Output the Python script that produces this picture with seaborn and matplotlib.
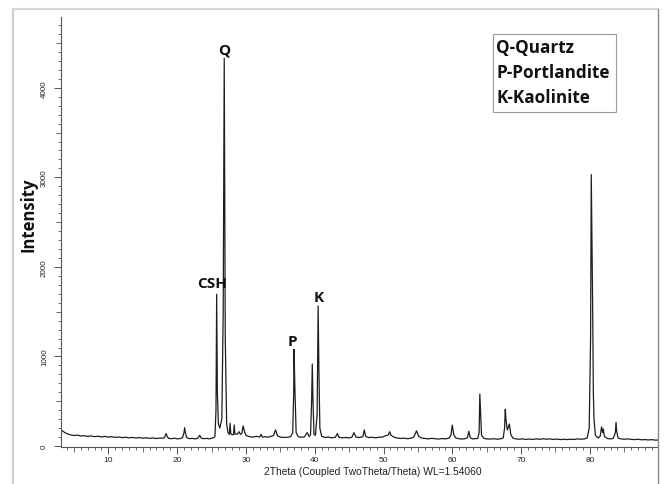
import numpy as np
import pandas as pd
import matplotlib
matplotlib.use("Agg")
import matplotlib.pyplot as plt
from matplotlib.ticker import MultipleLocator
from matplotlib.lines import Line2D
from matplotlib.patches import Rectangle
import seaborn as sns

# ---- data ----
two_theta = [
    3.0, 3.2, 3.5, 3.8, 4.1, 4.5, 5.0, 5.5, 6.0, 6.5, 7.0, 7.5, 8.0, 8.5, 9.0, 9.5,
    10.0, 10.5, 11.0, 11.5, 12.0, 12.5, 13.0, 13.5, 14.0, 14.5, 15.0, 15.5, 16.0, 16.5,
    17.0, 17.5, 18.0, 18.2, 18.4, 18.6, 18.8, 19.2, 19.6, 20.0, 20.5, 20.8, 21.0, 21.1,
    21.2, 21.4, 21.8, 22.2, 22.6, 23.0, 23.3, 23.5, 23.9, 24.3, 24.7, 25.0, 25.3, 25.5,
    25.65, 25.75, 25.85, 26.0, 26.2, 26.5, 26.7, 26.85, 27.0, 27.2, 27.4, 27.6, 27.7, 27.8,
    28.0, 28.2, 28.3, 28.4, 28.7, 29.0, 29.2, 29.4, 29.6, 29.8, 30.0, 30.5, 31.0, 31.5,
    32.0, 32.2, 32.4, 32.8, 33.2, 33.6, 34.0, 34.3, 34.6, 35.0, 35.5, 36.0, 36.5, 36.8,
    36.95, 37.0, 37.1, 37.3, 37.6, 38.0, 38.5, 38.9, 39.2, 39.4, 39.55, 39.65, 39.75, 39.9,
    40.1, 40.35, 40.5, 40.6, 40.75, 41.0, 41.5, 42.0, 42.5, 43.0, 43.3, 43.5, 44.0, 44.5,
    45.0, 45.4, 45.7, 46.0, 46.5, 47.0, 47.2, 47.4, 47.8, 48.3, 48.8, 49.3, 49.8, 50.3,
    50.7, 50.9, 51.1, 51.5, 52.0, 52.5, 53.0, 53.5, 54.0, 54.4, 54.8, 55.1, 55.5, 56.0,
    56.5, 57.0, 57.5, 58.0, 58.5, 59.0, 59.5, 59.8, 60.0, 60.2, 60.5, 61.0, 61.5, 62.0,
    62.2, 62.4, 62.6, 62.9, 63.3, 63.7, 63.9, 64.0, 64.1, 64.25, 64.6, 65.0, 65.5, 66.0,
    66.5, 67.0, 67.4, 67.6, 67.7, 67.8, 68.0, 68.3, 68.5, 68.8, 69.2, 69.7, 70.2, 70.7,
    71.2, 71.7, 72.2, 72.7, 73.2, 73.7, 74.2, 74.7, 75.2, 75.7, 76.2, 76.7, 77.2, 77.7,
    78.2, 78.7, 79.2, 79.6, 79.9, 80.1, 80.2, 80.3, 80.4, 80.5, 80.6, 80.8, 81.2, 81.5,
    81.7, 81.85, 81.95, 82.1, 82.5, 83.0, 83.4, 83.7, 83.8, 83.9, 84.1, 84.5, 85.0, 85.5,
    86.0, 86.5, 87.0, 87.5, 88.0, 88.5, 89.0, 89.5, 90.0,
]
intensity = [
    190, 175, 160, 145, 135, 125, 118, 122, 112, 116, 108, 113, 105, 110, 102, 108,
    100, 104, 97, 101, 94, 99, 92, 96, 90, 95, 88, 92, 86, 90,
    84, 89, 88, 100, 140, 100, 86, 82, 88, 80, 84, 95, 150, 205,
    150, 95, 82, 86, 80, 88, 120, 88, 82, 86, 80, 88, 92, 110,
    400, 1695, 600, 250, 200, 300, 1500, 4330, 1200, 250, 150, 130, 255, 140,
    125, 130, 235, 135, 130, 160, 130, 140, 225, 160, 120, 105, 100, 108,
    102, 130, 100, 105, 98, 108, 115, 180, 115, 100, 96, 98, 105, 150,
    600, 1080, 700, 150, 105, 98, 102, 150, 105, 130, 500, 915, 500, 130,
    120, 350, 1565, 900, 200, 110, 96, 100, 92, 98, 140, 100, 92, 96,
    90, 98, 150, 100, 95, 105, 180, 110, 95, 98, 92, 98, 100, 115,
    125, 160, 120, 100, 90, 85, 88, 82, 88, 100, 170, 110, 90, 85,
    80, 86, 82, 78, 84, 80, 88, 120, 235, 130, 90, 82, 78, 85,
    95, 165, 95, 80, 82, 85, 150, 580, 400, 120, 85, 80, 78, 82,
    76, 80, 90, 200, 410, 300, 180, 245, 130, 90, 80, 76, 80, 74,
    78, 74, 80, 75, 82, 76, 80, 74, 78, 72, 76, 72, 76, 74,
    80, 76, 80, 90, 200, 1200, 3030, 2300, 1560, 600, 300, 120, 90, 110,
    215, 150, 190, 110, 85, 80, 85, 150, 265, 160, 90, 80, 76, 80,
    74, 72, 76, 70, 72, 68, 72, 66, 68,
]

peak_labels = ["CSH", "Q", "P", "K"]
label_x = [25.1, 26.9, 36.8, 40.6]
label_y = [1820, 4425, 1170, 1660]

legend_lines = ["Q-Quartz", "P-Portlandite", "K-Kaolinite"]

df = pd.DataFrame({"two_theta": two_theta, "intensity": intensity})

sns.set_theme(style="white")
plt.rcParams["font.family"] = ["Liberation Sans", "DejaVu Sans"]

W, H = 666, 485
fig = plt.figure(figsize=(W / 100, H / 100), dpi=100)
fig.patch.set_facecolor("white")

# outer light frame of the picture
fig.add_artist(Line2D([13 / W, 13 / W], [1 - 10 / H, -0.05], transform=fig.transFigure,
                      color="#cfcfcf", lw=1.5))
fig.add_artist(Line2D([13 / W, 658 / W], [1 - 10 / H, 1 - 10 / H], transform=fig.transFigure,
                      color="#d6d6d6", lw=1.5))
fig.add_artist(Line2D([658 / W, 658 / W], [1 - 10 / H, -0.05], transform=fig.transFigure,
                      color="#8a8a8a", lw=1.0))

ax = fig.add_axes([60.5 / W, 1 - 447.5 / H, 597.5 / W, 429.5 / H])
ax.set_facecolor("white")

sns.lineplot(data=df, x="two_theta", y="intensity", ax=ax, color="#1e1e1e",
             linewidth=0.9, estimator=None, sort=False)

ax.set_xlim(3.05, 89.9)
ax.set_ylim(-5, 4790)

for s in ["top", "right"]:
    ax.spines[s].set_visible(False)
for s in ["left", "bottom"]:
    ax.spines[s].set_color("#555555")
    ax.spines[s].set_linewidth(0.8)

ax.xaxis.set_major_locator(MultipleLocator(10))
ax.xaxis.set_minor_locator(MultipleLocator(1))
ax.yaxis.set_major_locator(MultipleLocator(1000))
ax.yaxis.set_minor_locator(MultipleLocator(100))

ax.tick_params(axis="both", which="major", direction="out", length=5, width=0.7,
               color="#555555", labelcolor="#222222", labelsize=6)
ax.tick_params(axis="both", which="minor", direction="out", length=2.2, width=0.6,
               color="#555555")
ax.tick_params(axis="x", which="major", bottom=True, pad=2)
ax.tick_params(axis="x", which="minor", bottom=True)
ax.tick_params(axis="y", which="major", left=True, pad=4, labelsize=5.8)
ax.tick_params(axis="y", which="minor", left=True)
for lab in ax.get_yticklabels():
    lab.set_rotation(90)
    lab.set_va("center")

# medium ticks at every 5 (x) and 500 (y)
for loc, t in zip(ax.xaxis.get_minorticklocs(), ax.xaxis.get_minor_ticks()):
    if abs(loc / 5 - round(loc / 5)) < 1e-6:
        t.tick1line.set_markersize(3.6)
for loc, t in zip(ax.yaxis.get_minorticklocs(), ax.yaxis.get_minor_ticks()):
    if abs(loc / 500 - round(loc / 500)) < 1e-6:
        t.tick1line.set_markersize(3.6)

ax.set_xlabel("")
ax.set_ylabel("")
fig.text(373 / W, 1 - 472 / H, "2Theta (Coupled TwoTheta/Theta) WL=1.54060",
         ha="center", va="center", fontsize=7.4, color="#222222",
         family=["Liberation Sans", "DejaVu Sans"])
fig.text(29 / W, 1 - 215 / H, "Intensity", rotation=90, ha="center", va="center",
         fontsize=12, fontweight="bold", family=["Open Sans", "DejaVu Sans"], color="#111111")

for lab, lx, ly in zip(peak_labels, label_x, label_y):
    ax.text(lx, ly, lab, ha="center", va="center", fontsize=11, fontweight="bold",
            family=["Open Sans", "DejaVu Sans"], color="#111111")

# legend box
fig.add_artist(Rectangle((493 / W, 1 - 113 / H), 123 / W, 78 / H, transform=fig.transFigure,
                         facecolor="white", edgecolor="#9a9a9a", lw=0.8))
for i, txt in enumerate(legend_lines):
    fig.text(496 / W, 1 - (48 + 25 * i) / H, txt, ha="left", va="center",
             fontsize=12.3, fontweight="bold", family=["Open Sans", "DejaVu Sans"],
             color="#111111")

fig.savefig("out.png", dpi=100, facecolor="white")
